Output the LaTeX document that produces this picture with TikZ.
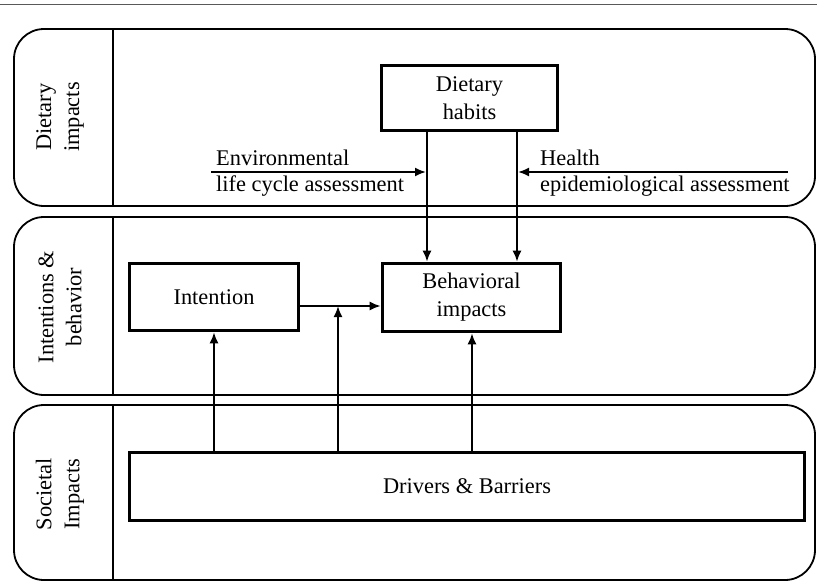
\documentclass[tikz,border=0pt]{standalone}
\usepackage{fontspec}
\setmainfont{Liberation Serif}
\usetikzlibrary{arrows.meta}
\begin{document}
\begin{tikzpicture}[x=1pt,y=-1pt,
  font=\fontsize{22.4}{28}\selectfont,
  band/.style={draw=black,line width=1.8pt,rounded corners=30pt},
  divider/.style={draw=black,line width=1.8pt},
  box/.style={draw=black,line width=3.6pt,align=center,inner sep=2pt},
  lbl/.style={rotate=90,align=center,inner sep=0pt},
  txt/.style={inner sep=0pt,anchor=base west},
  arr/.style={draw=black,line width=1.9pt,-{Latex[length=11pt,width=9pt]}},
  ln/.style={draw=black,line width=1.8pt}]
\useasboundingbox (0,0) rectangle (817,581);
\draw[gray!70!black,line width=1pt] (0,4.5) -- (817,4.5);
% bands
\draw[band] (14,29) rectangle (815,206);
\draw[band] (14,217) rectangle (815,395);
\draw[band] (14,405) rectangle (815,580);
\draw[divider] (113,29) -- (113,206);
\draw[divider] (113,217) -- (113,395);
\draw[divider] (113,405) -- (113,580);
% band labels
\node[lbl] (l1) at (60,117) {Dietary\\impacts};
\node[lbl] (l2) at (60,307) {Intentions \&\\behavior};
\node[lbl] (l3) at (60,494) {Societal\\Impacts};
% boxes
\node[box,minimum width=176pt,minimum height=65pt] (habits) at (469.5,98) {Dietary\\habits};
\node[box,minimum width=178pt,minimum height=68pt] (behav) at (471.5,297.5) {Behavioral\\impacts};
\node[box,minimum width=169pt,minimum height=67pt] (intent) at (214,297) {Intention};
\node[box,minimum width=675pt,minimum height=68pt] (drivers) at (467,486.5) {Drivers \& Barriers};
% dietary arrows
\coordinate (hx1) at (427,0);
\coordinate (hx2) at (517,0);
\draw[arr] (habits.south -| hx1) -- (behav.north -| hx1);
\draw[arr] (habits.south -| hx2) -- (behav.north -| hx2);
% assessment arrows
\coordinate (envs) at (211,172);
\coordinate (enve) at (426,172);
\coordinate (heas) at (788,172);
\coordinate (heae) at (518,172);
\draw[arr] (envs) -- (enve);
\draw[arr] (heas) -- (heae);
\node[txt] (env1) at (216,165) {Environmental};
\node[txt] (env2) at (216,191) {life cycle assessment};
\node[txt] (hea1) at (540,165) {Health};
\node[txt] (hea2) at (540,191) {epidemiological assessment};
% intention to behavior
\coordinate (iy) at (0,306);
\draw[arr] (intent.east |- iy) -- (behav.west |- iy);
\coordinate (mid) at (338,306);
% drivers arrows
\coordinate (dx1) at (214,0);
\coordinate (dx3) at (472,0);
\draw[arr] (drivers.north -| dx1) -- (intent.south -| dx1);
\draw[arr] (drivers.north -| mid) -- (mid);
\draw[arr] (drivers.north -| dx3) -- (behav.south -| dx3);
\end{tikzpicture}
\end{document}
